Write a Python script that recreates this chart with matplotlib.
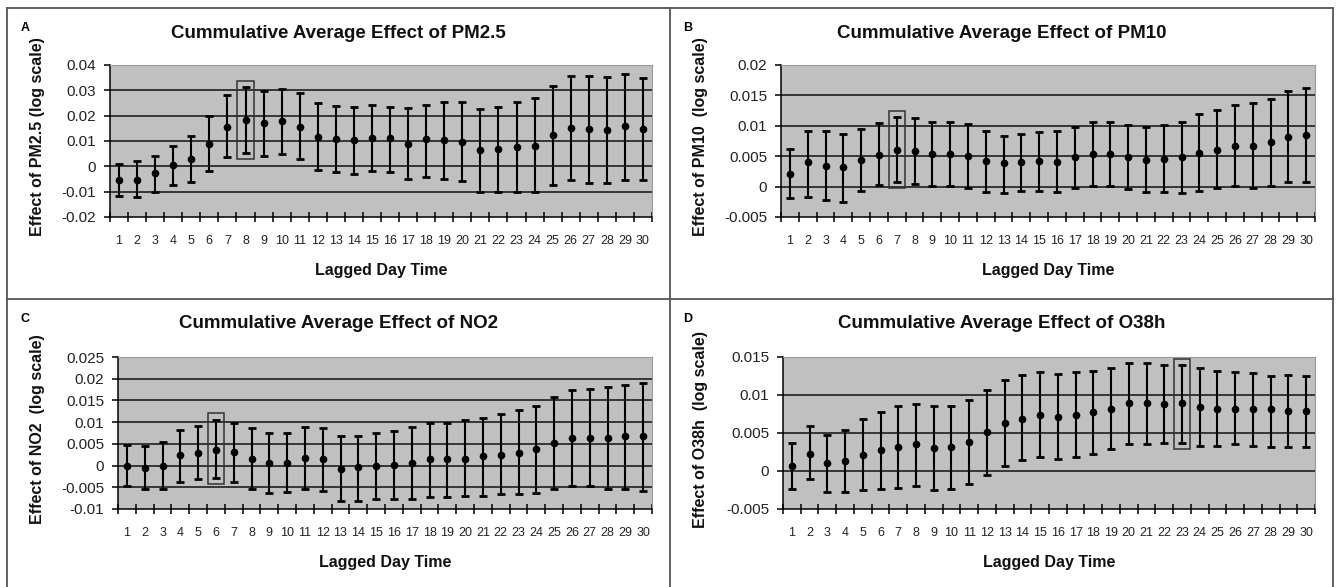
import numpy as np
import matplotlib
matplotlib.use("Agg")
import matplotlib.pyplot as plt
from matplotlib.patches import Rectangle
from matplotlib.ticker import FixedLocator, FuncFormatter

plt.rcParams['font.family'] = ['Liberation Sans', 'DejaVu Sans']

# lagged days 1..30
LAGS = list(range(1, 31))

# PM2.5: estimate, lower and upper limit
pm25_est = [-0.0055, -0.0053, -0.0025, 0.0007, 0.0029, 0.0090, 0.0157, 0.0182, 0.0171, 0.0178,
            0.0157, 0.0117, 0.0108, 0.0103, 0.0113, 0.0110, 0.0088, 0.0106, 0.0103, 0.0098,
            0.0063, 0.0067, 0.0077, 0.0080, 0.0123, 0.0152, 0.0149, 0.0142, 0.0158, 0.0149]
pm25_lo = [-0.0118, -0.0120, -0.0100, -0.0073, -0.0063, -0.0018, 0.0038, 0.0051, 0.0042, 0.0047,
           0.0028, -0.0013, -0.0024, -0.0029, -0.0018, -0.0024, -0.0049, -0.0042, -0.0049, -0.0059,
           -0.0100, -0.0101, -0.0100, -0.0101, -0.0073, -0.0053, -0.0065, -0.0067, -0.0053, -0.0053]
pm25_hi = [0.0008, 0.0020, 0.0040, 0.0080, 0.0120, 0.0198, 0.0280, 0.0314, 0.0298, 0.0307,
           0.0289, 0.0249, 0.0240, 0.0235, 0.0244, 0.0235, 0.0231, 0.0244, 0.0255, 0.0255,
           0.0228, 0.0235, 0.0255, 0.0269, 0.0318, 0.0356, 0.0356, 0.0352, 0.0363, 0.0347]

# PM10
pm10_est = [0.0021, 0.0040, 0.0034, 0.0032, 0.0044, 0.0052, 0.0060, 0.0058, 0.0054, 0.0054,
            0.0050, 0.0042, 0.0038, 0.0040, 0.0042, 0.0040, 0.0048, 0.0053, 0.0053, 0.0048,
            0.0044, 0.0046, 0.0049, 0.0056, 0.0061, 0.0067, 0.0067, 0.0073, 0.0082, 0.0085]
pm10_lo = [-0.0019, -0.0017, -0.0022, -0.0025, -0.0007, 0.0002, 0.0007, 0.0004, 0.0001, 0.0001,
           -0.0003, -0.0009, -0.0010, -0.0007, -0.0007, -0.0009, -0.0003, 0.0001, 0.0001, -0.0004,
           -0.0009, -0.0009, -0.0010, -0.0007, -0.0003, 0.0001, -0.0003, 0.0001, 0.0007, 0.0008]
pm10_hi = [0.0062, 0.0092, 0.0092, 0.0087, 0.0095, 0.0104, 0.0115, 0.0113, 0.0107, 0.0107,
           0.0103, 0.0091, 0.0084, 0.0087, 0.0089, 0.0091, 0.0098, 0.0106, 0.0106, 0.0101,
           0.0098, 0.0101, 0.0107, 0.0120, 0.0126, 0.0134, 0.0137, 0.0144, 0.0157, 0.0162]

# NO2
no2_est = [0.0000, -0.0005, 0.0000, 0.0024, 0.0030, 0.0037, 0.0032, 0.0015, 0.0007, 0.0007,
           0.0018, 0.0015, -0.0008, -0.0004, -0.0002, 0.0002, 0.0005, 0.0015, 0.0015, 0.0015,
           0.0021, 0.0025, 0.0030, 0.0038, 0.0052, 0.0064, 0.0064, 0.0064, 0.0067, 0.0067]
no2_lo = [-0.0047, -0.0054, -0.0054, -0.0037, -0.0032, -0.0029, -0.0037, -0.0054, -0.0063, -0.0060,
          -0.0053, -0.0058, -0.0081, -0.0081, -0.0078, -0.0078, -0.0078, -0.0072, -0.0072, -0.0069,
          -0.0069, -0.0066, -0.0066, -0.0063, -0.0053, -0.0047, -0.0048, -0.0053, -0.0053, -0.0058]
no2_hi = [0.0047, 0.0044, 0.0054, 0.0083, 0.0091, 0.0106, 0.0099, 0.0087, 0.0074, 0.0076,
          0.0089, 0.0087, 0.0067, 0.0069, 0.0074, 0.0080, 0.0089, 0.0099, 0.0099, 0.0104,
          0.0110, 0.0118, 0.0127, 0.0138, 0.0158, 0.0175, 0.0177, 0.0180, 0.0186, 0.0189]

# O3 8h
o3_est = [0.0007, 0.0023, 0.0010, 0.0013, 0.0021, 0.0027, 0.0032, 0.0035, 0.0030, 0.0032,
          0.0038, 0.0051, 0.0063, 0.0069, 0.0074, 0.0071, 0.0074, 0.0078, 0.0082, 0.0089,
          0.0089, 0.0088, 0.0089, 0.0084, 0.0082, 0.0082, 0.0081, 0.0081, 0.0079, 0.0079]
o3_lo = [-0.0024, -0.0011, -0.0027, -0.0027, -0.0025, -0.0024, -0.0022, -0.0020, -0.0025, -0.0024,
         -0.0017, -0.0005, 0.0007, 0.0014, 0.0018, 0.0016, 0.0019, 0.0022, 0.0029, 0.0035,
         0.0035, 0.0037, 0.0037, 0.0033, 0.0033, 0.0035, 0.0033, 0.0032, 0.0032, 0.0032]
o3_hi = [0.0037, 0.0059, 0.0048, 0.0054, 0.0068, 0.0077, 0.0085, 0.0088, 0.0085, 0.0086,
         0.0093, 0.0107, 0.0120, 0.0126, 0.0130, 0.0128, 0.0130, 0.0132, 0.0136, 0.0142,
         0.0142, 0.0139, 0.0139, 0.0135, 0.0132, 0.0130, 0.0129, 0.0125, 0.0126, 0.0125]

panels = [
    # letter, pollutant, est, lo, hi, y ticks, highlighted lag, plot box (px: left, top, right, bottom)
    ('A', 'PM2.5', pm25_est, pm25_lo, pm25_hi, [-0.02, -0.01, 0, 0.01, 0.02, 0.03, 0.04], 8, (110, 65, 652, 217)),
    ('B', 'PM10', pm10_est, pm10_lo, pm10_hi, [-0.005, 0, 0.005, 0.01, 0.015, 0.02], 7, (781, 65, 1315, 217)),
    ('C', 'NO2', no2_est, no2_lo, no2_hi, [-0.01, -0.005, 0, 0.005, 0.01, 0.015, 0.02, 0.025], 6, (118, 357, 652, 509)),
    ('D', 'O38h', o3_est, o3_lo, o3_hi, [-0.005, 0, 0.005, 0.01, 0.015], 23, (783, 357, 1315, 509)),
]

W, H = 1340, 587
fig = plt.figure(figsize=(W / 100, H / 100), dpi=100)


def fx(px):
    return px / W


def fy(py):
    return 1 - py / H


def fmt(v, pos):
    v = round(v, 6)
    if v == 0:
        return '0'
    return '{:g}'.format(v)


# panel frame lines
frame_kw = dict(color='#555555', lw=1.3, transform=fig.transFigure)
fig.add_artist(plt.Line2D([fx(7), fx(1333)], [fy(8), fy(8)], **frame_kw))
fig.add_artist(plt.Line2D([fx(7), fx(7)], [fy(8), fy(587)], **frame_kw))
fig.add_artist(plt.Line2D([fx(1333), fx(1333)], [fy(8), fy(587)], **frame_kw))
fig.add_artist(plt.Line2D([fx(670), fx(670)], [fy(8), fy(587)], **frame_kw))
fig.add_artist(plt.Line2D([fx(7), fx(1333)], [fy(299), fy(299)], **frame_kw))

for letter, name, est, lo, hi, yt, hl, box in panels:
    L, T, R, B = box
    ax = fig.add_axes([fx(L), fy(B), fx(R - L), (B - T) / H])
    ax.set_facecolor('#c0c0c0')
    est = np.array(est)
    lo = np.array(lo)
    hi = np.array(hi)
    ax.errorbar(LAGS, est, yerr=[est - lo, hi - est], fmt='o', color='black', ms=4.5,
                elinewidth=1.5, capsize=2.6, capthick=2, zorder=3)

    ax.set_xlim(0.5, 30.5)
    ax.set_ylim(yt[0], yt[-1])
    for v in yt[1:-1]:
        ax.axhline(v, color='#111111', lw=1.1, zorder=1)

    # highlight box around the selected lag
    i = LAGS.index(hl)
    pad = 0.04 * (yt[-1] - yt[0])
    ax.add_patch(Rectangle((hl - 0.46, lo[i] - pad), 0.92, hi[i] - lo[i] + 2 * pad,
                           fill=False, edgecolor='#333333', lw=1.1, zorder=4))

    for s in ['top', 'right']:
        ax.spines[s].set_color('#9a9a9a')
        ax.spines[s].set_linewidth(0.8)
    for s in ['left', 'bottom']:
        ax.spines[s].set_color('black')
        ax.spines[s].set_linewidth(1.1)

    ax.set_yticks(yt)
    ax.yaxis.set_major_formatter(FuncFormatter(fmt))
    ax.tick_params(axis='y', direction='out', length=4, width=1.1, pad=6, labelsize=11,
                   labelcolor='#222222')
    ax.set_xticks(LAGS)
    ax.set_xticklabels([str(d) for d in LAGS])
    ax.xaxis.set_minor_locator(FixedLocator(np.arange(0.5, 31, 1)))
    ax.tick_params(axis='x', which='major', length=0, pad=13, labelsize=9,
                   labelcolor='#222222')
    ax.tick_params(axis='x', which='minor', direction='inout', length=7, width=1.1)

    # panel texts
    px0 = 7 if letter in 'AC' else 670
    px1 = 670 if letter in 'AC' else 1333
    py0 = 8 if letter in 'AB' else 299
    fig.text(fx(px0 + 18), fy(py0 + 20), letter, fontsize=9, fontweight='bold',
             ha='center', va='center')
    fig.text(fx((px0 + px1) / 2), fy(py0 + 25), 'Cummulative Average Effect of ' + name,
             fontsize=13.5, fontweight='bold', ha='center', va='center', color='#111111')
    fig.text(fx((L + R) / 2), fy(B + 54), 'Lagged Day Time', fontsize=11.5,
             fontweight='bold', ha='center', va='center', color='#111111')
    gap = ' ' if name == 'PM2.5' else '  '
    fig.text(fx(px0 + 31), fy((T + B) / 2 - 4), 'Effect of ' + name + gap + '(log scale)',
             fontsize=11.5, fontweight='bold', rotation=90, ha='center', va='center',
             color='#111111')

fig.savefig('out.png', dpi=100)
